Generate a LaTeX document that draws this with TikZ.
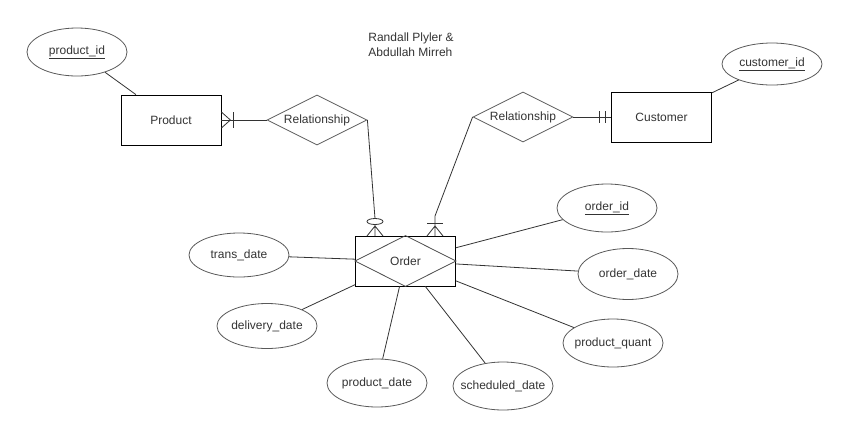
\documentclass[tikz,border=0pt]{standalone}
\usepackage{fontspec}
\setmainfont{Liberation Sans}
\usetikzlibrary{shapes.geometric}
\newcommand{\atxt}[1]{\makebox[0pt]{#1}}
\begin{document}
\begin{tikzpicture}[x=1pt,y=-1pt,line width=0.8pt,
  every node/.style={font=\fontsize{12}{15}\selectfont,text=black!80},
  entity/.style={rectangle,draw=black,minimum width=100pt,minimum height=50pt,inner sep=0pt},
  attr/.style={ellipse,draw=black!65,minimum width=100pt,minimum height=48pt,inner sep=0pt},
  rel/.style={diamond,draw=black!65,aspect=2,minimum width=100pt,minimum height=50pt,inner sep=1pt},
  link/.style={draw=black!80}]
\useasboundingbox (0,0) rectangle (849,437);
\node [align=left,anchor=west,inner sep=0pt] (title) at (368,45) {Randall Plyler \&\\Abdullah Mirreh};
% entities and relationships
\node [entity] (product) at (171,120) {Product};
\node [entity] (customer) at (661.5,117) {Customer};
\node [entity] (order) at (405.5,261) {Order};
\draw [draw=black!70] (order.north) -- (order.east) -- (order.south) -- (order.west) -- cycle;
\node [rel] (relP) at (317,120) {Relationship};
\node [rel] (relC) at (523,117) {Relationship};
% attributes
\node [attr] (productid) at (77,52) {\atxt{\underline{product\_id}}};
\node [attr,minimum height=42pt] (customerid) at (772,64) {\atxt{\underline{customer\_id}}};
\node [attr] (orderid) at (607,208) {\atxt{\underline{order\_id}}};
\node [attr,minimum height=51pt] (orderdate) at (628,274) {\atxt{order\_date}};
\node [attr] (productquant) at (613,343) {\atxt{product\_quant}};
\node [attr] (scheddate) at (503,386) {\atxt{scheduled\_date}};
\node [attr] (productdate) at (377,383) {\atxt{product\_date}};
\node [attr,minimum height=45pt] (deliverydate) at (267,326) {\atxt{delivery\_date}};
\node [attr,minimum height=44pt] (transdate) at (239,255) {\atxt{trans\_date}};
\foreach \a/\b in {productid/product,customerid/customer,orderid/order,orderdate/order,
  productquant/order,scheddate/order,productdate/order,deliverydate/order,transdate/order}
  \draw [link] (\a) -- (\b);
% product -- relationship (one or many)
\draw [link] (product.east) -- (relP.west);
\draw [link] ([shift={(0,-8)}]product.east) -- ++(9,8) -- ++(-9,8);
\draw [link] ([shift={(12,-8)}]product.east) -- ++(0,16);
% customer -- relationship (one and only one)
\draw [link] (relC.east) -- (customer.west);
\draw [link] ([shift={(-12,-6)}]customer.west) -- ++(0,12);
\draw [link] ([shift={(-6,-6)}]customer.west) -- ++(0,12);
% relationships -- order
\coordinate (zm) at (375,236);
\coordinate (om) at (435,236);
\draw [link] (relP.east) -- ([shift={(0,-17.5)}]zm);
\draw [link] ([shift={(0,-14.5)}]zm) ellipse [x radius=8pt,y radius=3pt];
\draw [link] ([shift={(0,-11.5)}]zm) -- (zm) ++(-8,0) -- ++(8,-10) -- ++(8,10);
\draw [link] (relC.west) -- ([shift={(0,-20)}]om) -- (om) ++(-8,0) -- ++(8,-10) -- ++(8,10);
\draw [link] ([shift={(-8,-13)}]om) -- ++(16,0);
\end{tikzpicture}
\end{document}
